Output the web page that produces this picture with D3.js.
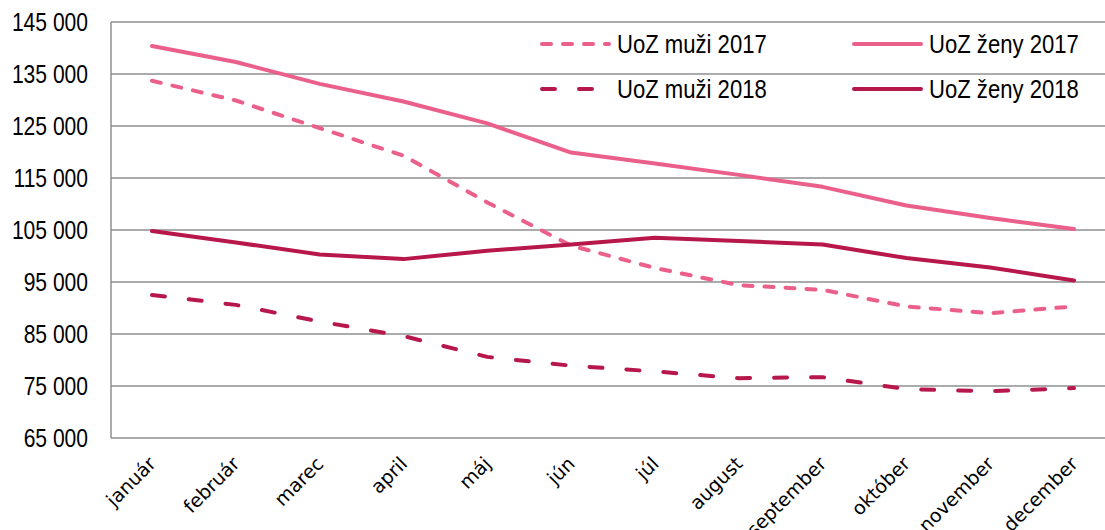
<!DOCTYPE html>
<html>
<head>
<meta charset="utf-8">
<script src="https://cdn.jsdelivr.net/npm/d3@7"></script>
<style>
  body { margin: 0; background: #fff; }
  svg { display: block; }
</style>
</head>
<body>
<div id="chart"></div>
<script>
var months = ["január", "február", "marec", "april", "máj", "jún", "júl", "august", "september", "október", "november", "december"];

var muzi2017 = [133700, 129900, 124600, 119300, 110300, 102000, 97700, 94400, 93500, 90300, 89000, 90300];
var zeny2017 = [140400, 137300, 133100, 129700, 125500, 119900, 117800, 115600, 113300, 109700, 107300, 105200];
var muzi2018 = [92500, 90600, 87400, 84600, 80600, 78900, 77800, 76500, 76700, 74400, 74000, 74600];
var zeny2018 = [104800, 102600, 100300, 99400, 101000, 102200, 103500, 102900, 102200, 99600, 97800, 95300];

var yTicks = [65000, 75000, 85000, 95000, 105000, 115000, 125000, 135000, 145000];

var seriesNames = ["UoZ muži 2017", "UoZ ženy 2017", "UoZ muži 2018", "UoZ ženy 2018"];

var light = "#ea608a", dark = "#b7174b";

var series = [
    { name: seriesNames[0], values: muzi2017, color: light, dash: "9,12" },
    { name: seriesNames[1], values: zeny2017, color: light, dash: null },
    { name: seriesNames[2], values: muzi2018, color: dark, dash: "13,24" },
    { name: seriesNames[3], values: zeny2018, color: dark, dash: null }
];

var W = 1105, H = 530;
var margin = { top: 22, right: 0, bottom: 92, left: 111 };

var svg = d3.select("#chart")
    .append("svg")
    .attr("width", W)
    .attr("height", H);

// Scales
var x = d3.scalePoint()
    .domain(months)
    .range([152, 1074]);

var y = d3.scaleLinear()
    .domain([65000, 145000])
    .range([H - margin.bottom, margin.top]);

var fmt = d3.formatLocale({ decimal: ",", thousands: " ", grouping: [3], currency: ["", ""] }).format(",");

// Gridlines
svg.append("g")
    .selectAll("line")
    .data(yTicks)
    .enter()
    .append("line")
    .attr("x1", margin.left)
    .attr("x2", W - margin.right)
    .attr("y1", function(d) { return y(d); })
    .attr("y2", function(d) { return y(d); })
    .attr("stroke", "#8f8f8f")
    .attr("stroke-width", 1.5);

// Left axis line
svg.append("line")
    .attr("x1", margin.left)
    .attr("x2", margin.left)
    .attr("y1", y(145000))
    .attr("y2", y(65000))
    .attr("stroke", "#8f8f8f")
    .attr("stroke-width", 1.5);

// Y labels (squeezed horizontally to get the narrow look of the original)
svg.append("g")
    .selectAll("text")
    .data(yTicks)
    .enter()
    .append("text")
    .attr("transform", function(d) { return "translate(88," + y(d) + ") scale(0.81,1)"; })
    .attr("dy", "0.36em")
    .attr("text-anchor", "end")
    .style("font-family", "'Liberation Sans', Arial, sans-serif")
    .style("font-size", "26px")
    .attr("fill", "#000")
    .text(function(d) { return fmt(d); });

// X labels
svg.append("g")
    .selectAll("text")
    .data(months)
    .enter()
    .append("text")
    .attr("transform", function(d) { return "translate(" + (x(d) + 5) + "," + 465 + ") rotate(-45)"; })
    .attr("text-anchor", "end")
    .style("font-family", "'DejaVu Sans', sans-serif")
    .style("font-size", "19px")
    .attr("fill", "#000")
    .text(function(d) { return d; });

// Lines
var line = d3.line()
    .x(function(d, i) { return x(months[i]); })
    .y(function(d) { return y(d); });

svg.append("g")
    .selectAll("path")
    .data(series)
    .enter()
    .append("path")
    .attr("d", function(d) { return line(d.values); })
    .attr("fill", "none")
    .attr("stroke", function(d) { return d.color; })
    .attr("stroke-width", 4)
    .attr("stroke-linecap", "round")
    .attr("stroke-linejoin", "round")
    .attr("stroke-dasharray", function(d) { return d.dash; });

// Legend
var legendPos = [
    { lx: 540, ly: 44 },
    { lx: 852, ly: 44 },
    { lx: 540, ly: 89 },
    { lx: 852, ly: 89 }
];

var legend = svg.append("g")
    .selectAll("g")
    .data(series)
    .enter()
    .append("g")
    .attr("transform", function(d, i) { return "translate(" + legendPos[i].lx + "," + legendPos[i].ly + ")"; });

legend.append("line")
    .attr("x1", 2)
    .attr("x2", 69)
    .attr("stroke", function(d) { return d.color; })
    .attr("stroke-width", 4)
    .attr("stroke-linecap", "round")
    .attr("stroke-dasharray", function(d) { return d.dash; });

legend.append("text")
    .attr("transform", "translate(77,0) scale(0.85,1)")
    .attr("dy", "0.36em")
    .style("font-family", "'Liberation Sans', Arial, sans-serif")
    .style("font-size", "26px")
    .attr("fill", "#000")
    .text(function(d) { return d.name; });
</script>
</body>
</html>
